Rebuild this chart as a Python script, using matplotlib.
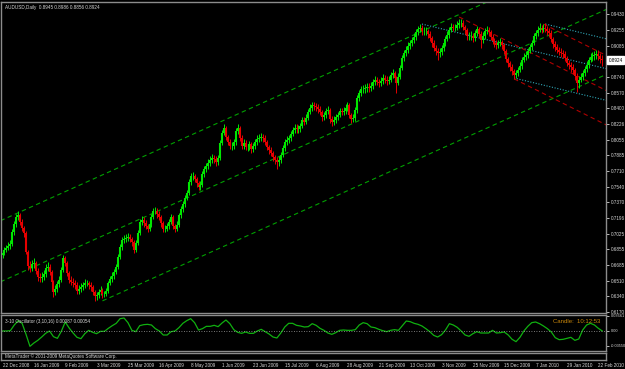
import matplotlib
matplotlib.use("Agg")
import matplotlib.pyplot as plt
import matplotlib.transforms as mtransforms
import numpy as np

# AUDUSD daily bars, 22 Dec 2008 .. 24 Feb 2010
first_open = 0.6790
close = [
    0.6812, 0.6845, 0.6867, 0.6889, 0.6911, 0.7042, 0.7130, 0.7207, 0.7228, 0.7152,
    0.7086, 0.7031, 0.6823, 0.6670, 0.6648, 0.6692, 0.6703, 0.6615, 0.6549, 0.6538,
    0.6549, 0.6582, 0.6648, 0.6659, 0.6604, 0.6495, 0.6385, 0.6418, 0.6473, 0.6517,
    0.6626, 0.6757, 0.6703, 0.6593, 0.6517, 0.6495, 0.6484, 0.6462, 0.6396, 0.6418,
    0.6440, 0.6462, 0.6484, 0.6484, 0.6462, 0.6440, 0.6385, 0.6341, 0.6352, 0.6385,
    0.6407, 0.6363, 0.6363, 0.6396, 0.6484, 0.6527, 0.6560, 0.6604, 0.6659, 0.6768,
    0.6878, 0.6955, 0.6966, 0.6976, 0.6987, 0.6966, 0.6933, 0.6845, 0.6922, 0.7031,
    0.7152, 0.7174, 0.7141, 0.7108, 0.7075, 0.7130, 0.7207, 0.7272, 0.7272, 0.7239,
    0.7207, 0.7141, 0.7075, 0.7075, 0.7108, 0.7152, 0.7207, 0.7108, 0.7075, 0.7119,
    0.7228, 0.7294, 0.7349, 0.7415, 0.7469, 0.7590, 0.7656, 0.7656, 0.7623, 0.7579,
    0.7535, 0.7557, 0.7677, 0.7732, 0.7765, 0.7798, 0.7831, 0.7853, 0.7842, 0.7809,
    0.7853, 0.8017, 0.8127, 0.8181, 0.8083, 0.8028, 0.7984, 0.7984, 0.8028, 0.8148,
    0.8181, 0.8072, 0.7984, 0.8017, 0.7973, 0.7973, 0.8006, 0.7951, 0.7984, 0.8028,
    0.8061, 0.8072, 0.8083, 0.8072, 0.8028, 0.7973, 0.7940, 0.7907, 0.7864, 0.7831,
    0.7809, 0.7831, 0.7886, 0.7962, 0.8028, 0.8050, 0.8072, 0.8116, 0.8159, 0.8181,
    0.8170, 0.8170, 0.8203, 0.8269, 0.8247, 0.8291, 0.8357, 0.8400, 0.8433, 0.8422,
    0.8411, 0.8389, 0.8357, 0.8302, 0.8324, 0.8368, 0.8378, 0.8280, 0.8247, 0.8269,
    0.8302, 0.8324, 0.8368, 0.8357, 0.8368, 0.8400, 0.8433, 0.8324, 0.8280, 0.8291,
    0.8378, 0.8510, 0.8565, 0.8608, 0.8608, 0.8619, 0.8630, 0.8619, 0.8641, 0.8685,
    0.8707, 0.8685, 0.8674, 0.8696, 0.8729, 0.8707, 0.8696, 0.8707, 0.8762, 0.8784,
    0.8729, 0.8674, 0.8740, 0.8839, 0.8948, 0.9003, 0.9036, 0.9079, 0.9112, 0.9145,
    0.9178, 0.9233, 0.9266, 0.9277, 0.9244, 0.9244, 0.9244, 0.9211, 0.9167, 0.9112,
    0.9058, 0.9025, 0.9003, 0.9014, 0.9058, 0.9112, 0.9156, 0.9200, 0.9255, 0.9288,
    0.9277, 0.9277, 0.9309, 0.9331, 0.9331, 0.9288, 0.9255, 0.9189, 0.9189, 0.9189,
    0.9167, 0.9222, 0.9266, 0.9211, 0.9145, 0.9189, 0.9244, 0.9255, 0.9233, 0.9178,
    0.9134, 0.9112, 0.9090, 0.9112, 0.9123, 0.9090, 0.9025, 0.8937, 0.8893, 0.8849,
    0.8806, 0.8762, 0.8784, 0.8817, 0.8860, 0.8926, 0.8959, 0.8981, 0.9025, 0.9069,
    0.9112, 0.9189, 0.9222, 0.9255, 0.9277, 0.9255, 0.9277, 0.9266, 0.9244, 0.9222,
    0.9156, 0.9101, 0.9069, 0.9036, 0.9014, 0.9003, 0.8992, 0.8948, 0.8893, 0.8871,
    0.8849, 0.8817, 0.8751, 0.8674, 0.8707, 0.8740, 0.8784, 0.8828, 0.8871, 0.8926,
    0.8959, 0.8970, 0.8981, 0.8992, 0.8970, 0.8937, 0.8924,
]
high = [
    0.6850, 0.6880, 0.6900, 0.6930, 0.6950, 0.7070, 0.7160, 0.7240, 0.7270, 0.7250,
    0.7180, 0.7110, 0.7050, 0.6850, 0.6720, 0.6740, 0.6760, 0.6730, 0.6650, 0.6590,
    0.6600, 0.6630, 0.6690, 0.6710, 0.6690, 0.6630, 0.6520, 0.6460, 0.6510, 0.6560,
    0.6660, 0.6790, 0.6780, 0.6720, 0.6620, 0.6560, 0.6540, 0.6520, 0.6490, 0.6460,
    0.6480, 0.6500, 0.6530, 0.6520, 0.6510, 0.6490, 0.6460, 0.6410, 0.6390, 0.6420,
    0.6450, 0.6430, 0.6400, 0.6430, 0.6510, 0.6560, 0.6600, 0.6640, 0.6690, 0.6800,
    0.6910, 0.6990, 0.7010, 0.7020, 0.7030, 0.7020, 0.6990, 0.6950, 0.6950, 0.7060,
    0.7180, 0.7220, 0.7210, 0.7170, 0.7130, 0.7160, 0.7240, 0.7310, 0.7320, 0.7300,
    0.7270, 0.7230, 0.7160, 0.7120, 0.7140, 0.7190, 0.7240, 0.7230, 0.7130, 0.7160,
    0.7250, 0.7330, 0.7380, 0.7450, 0.7500, 0.7620, 0.7690, 0.7700, 0.7680, 0.7650,
    0.7600, 0.7600, 0.7710, 0.7770, 0.7800, 0.7840, 0.7870, 0.7900, 0.7890, 0.7870,
    0.7890, 0.8050, 0.8160, 0.8230, 0.8200, 0.8110, 0.8060, 0.8030, 0.8060, 0.8180,
    0.8220, 0.8200, 0.8100, 0.8060, 0.8050, 0.8010, 0.8040, 0.8030, 0.8020, 0.8060,
    0.8100, 0.8120, 0.8130, 0.8120, 0.8100, 0.8050, 0.8000, 0.7970, 0.7930, 0.7890,
    0.7860, 0.7870, 0.7920, 0.8000, 0.8060, 0.8090, 0.8110, 0.8150, 0.8190, 0.8220,
    0.8220, 0.8210, 0.8240, 0.8300, 0.8300, 0.8330, 0.8390, 0.8440, 0.8470, 0.8470,
    0.8460, 0.8440, 0.8420, 0.8380, 0.8360, 0.8400, 0.8420, 0.8400, 0.8310, 0.8310,
    0.8340, 0.8360, 0.8400, 0.8400, 0.8410, 0.8440, 0.8470, 0.8450, 0.8350, 0.8330,
    0.8410, 0.8540, 0.8600, 0.8640, 0.8650, 0.8660, 0.8670, 0.8670, 0.8680, 0.8720,
    0.8750, 0.8740, 0.8720, 0.8740, 0.8770, 0.8760, 0.8750, 0.8750, 0.8800, 0.8830,
    0.8810, 0.8750, 0.8780, 0.8870, 0.8980, 0.9040, 0.9080, 0.9120, 0.9150, 0.9180,
    0.9220, 0.9270, 0.9300, 0.9320, 0.9310, 0.9290, 0.9290, 0.9270, 0.9240, 0.9190,
    0.9140, 0.9090, 0.9060, 0.9060, 0.9090, 0.9140, 0.9190, 0.9240, 0.9290, 0.9330,
    0.9320, 0.9320, 0.9350, 0.9380, 0.9370, 0.9360, 0.9310, 0.9280, 0.9230, 0.9240,
    0.9220, 0.9260, 0.9300, 0.9290, 0.9240, 0.9230, 0.9280, 0.9300, 0.9290, 0.9260,
    0.9210, 0.9170, 0.9150, 0.9150, 0.9170, 0.9150, 0.9110, 0.9050, 0.8960, 0.8920,
    0.8880, 0.8830, 0.8820, 0.8850, 0.8900, 0.8960, 0.9000, 0.9020, 0.9060, 0.9100,
    0.9150, 0.9220, 0.9260, 0.9300, 0.9330, 0.9310, 0.9320, 0.9330, 0.9300, 0.9280,
    0.9250, 0.9180, 0.9130, 0.9100, 0.9070, 0.9060, 0.9040, 0.9020, 0.8970, 0.8930,
    0.8900, 0.8880, 0.8840, 0.8780, 0.8750, 0.8780, 0.8820, 0.8860, 0.8910, 0.8960,
    0.9000, 0.9010, 0.9030, 0.9040, 0.9040, 0.9000, 0.8986,
]
low = [
    0.6760, 0.6790, 0.6820, 0.6840, 0.6860, 0.6890, 0.7010, 0.7100, 0.7170, 0.7120,
    0.7050, 0.6990, 0.6800, 0.6630, 0.6600, 0.6610, 0.6650, 0.6580, 0.6510, 0.6490,
    0.6500, 0.6520, 0.6550, 0.6610, 0.6570, 0.6460, 0.6330, 0.6350, 0.6380, 0.6440,
    0.6490, 0.6600, 0.6670, 0.6560, 0.6480, 0.6460, 0.6440, 0.6420, 0.6360, 0.6360,
    0.6390, 0.6410, 0.6430, 0.6450, 0.6420, 0.6400, 0.6350, 0.6290, 0.6300, 0.6320,
    0.6350, 0.6320, 0.6330, 0.6340, 0.6370, 0.6460, 0.6500, 0.6530, 0.6580, 0.6640,
    0.6750, 0.6850, 0.6920, 0.6930, 0.6940, 0.6930, 0.6890, 0.6810, 0.6820, 0.6900,
    0.7010, 0.7120, 0.7100, 0.7070, 0.7040, 0.7050, 0.7100, 0.7180, 0.7240, 0.7200,
    0.7170, 0.7100, 0.7040, 0.7040, 0.7050, 0.7080, 0.7130, 0.7080, 0.7040, 0.7050,
    0.7100, 0.7200, 0.7260, 0.7320, 0.7390, 0.7450, 0.7560, 0.7610, 0.7590, 0.7540,
    0.7500, 0.7500, 0.7540, 0.7650, 0.7700, 0.7730, 0.7770, 0.7800, 0.7800, 0.7770,
    0.7780, 0.7830, 0.7990, 0.8100, 0.8050, 0.7990, 0.7950, 0.7940, 0.7950, 0.8000,
    0.8120, 0.8040, 0.7950, 0.7950, 0.7940, 0.7930, 0.7940, 0.7910, 0.7920, 0.7950,
    0.8000, 0.8030, 0.8040, 0.8030, 0.7990, 0.7940, 0.7900, 0.7870, 0.7820, 0.7790,
    0.7730, 0.7760, 0.7800, 0.7860, 0.7930, 0.8000, 0.8020, 0.8040, 0.8090, 0.8130,
    0.8130, 0.8130, 0.8140, 0.8180, 0.8210, 0.8220, 0.8270, 0.8330, 0.8370, 0.8380,
    0.8370, 0.8350, 0.8320, 0.8260, 0.8270, 0.8290, 0.8330, 0.8240, 0.8200, 0.8210,
    0.8240, 0.8270, 0.8300, 0.8320, 0.8320, 0.8340, 0.8370, 0.8290, 0.8240, 0.8250,
    0.8260, 0.8350, 0.8480, 0.8530, 0.8570, 0.8570, 0.8580, 0.8580, 0.8590, 0.8610,
    0.8650, 0.8650, 0.8630, 0.8640, 0.8660, 0.8670, 0.8650, 0.8660, 0.8680, 0.8730,
    0.8690, 0.8570, 0.8650, 0.8720, 0.8820, 0.8920, 0.8970, 0.9000, 0.9050, 0.9080,
    0.9110, 0.9150, 0.9200, 0.9230, 0.9200, 0.9200, 0.9200, 0.9170, 0.9130, 0.9070,
    0.9020, 0.8980, 0.8930, 0.8960, 0.8980, 0.9030, 0.9080, 0.9130, 0.9170, 0.9230,
    0.9240, 0.9240, 0.9250, 0.9280, 0.9290, 0.9250, 0.9210, 0.9150, 0.9150, 0.9140,
    0.9120, 0.9130, 0.9190, 0.9170, 0.9060, 0.9110, 0.9160, 0.9210, 0.9190, 0.9140,
    0.9100, 0.9070, 0.9050, 0.9060, 0.9080, 0.9050, 0.8990, 0.8900, 0.8850, 0.8810,
    0.8760, 0.8720, 0.8730, 0.8750, 0.8790, 0.8830, 0.8900, 0.8930, 0.8950, 0.9000,
    0.9040, 0.9090, 0.9160, 0.9190, 0.9230, 0.9220, 0.9230, 0.9230, 0.9200, 0.9180,
    0.9120, 0.9060, 0.9030, 0.9000, 0.8980, 0.8960, 0.8950, 0.8910, 0.8860, 0.8830,
    0.8800, 0.8770, 0.8710, 0.8580, 0.8620, 0.8680, 0.8710, 0.8750, 0.8800, 0.8840,
    0.8900, 0.8920, 0.8930, 0.8940, 0.8930, 0.8890, 0.8856,
]

# 3-10 oscillator, one value every second bar
osc_step = 2
osc = [
    0.0, 0.0, 0.0008, 0.0144, 0.0248, 0.0184, -0.0080, -0.0368, -0.0288, -0.0224,
    -0.0144, -0.0056, 0.0, -0.0136, -0.0176, -0.0008, 0.0216, 0.0072, -0.0048, -0.0152,
    -0.0184, -0.0064, 0.0016, -0.0032, -0.0064, -0.0008, -0.0008, 0.0064, 0.0128, 0.0184,
    0.0296, 0.0312, 0.0200, 0.0016, -0.0016, 0.0128, 0.0152, 0.0160, 0.0144, 0.0056,
    0.0, -0.0096, -0.0096, -0.0016, 0.0, 0.0080, 0.0184, 0.0248, 0.0296, 0.0200,
    0.0024, 0.0056, 0.0112, 0.0112, 0.0136, 0.0104, 0.0192, 0.0264, 0.0176, 0.0032,
    -0.0032, -0.0056, -0.0024, -0.0056, -0.0056, 0.0, 0.0040, -0.0016, -0.0072, -0.0144,
    -0.0168, -0.0048, 0.0096, 0.0184, 0.0184, 0.0136, 0.0120, 0.0096, 0.0104, 0.0176,
    0.0136, 0.0064, 0.0016, -0.0048, -0.0080, -0.0040, 0.0016, 0.0024, 0.0016, 0.0016,
    0.0032, 0.0144, 0.0200, 0.0176, 0.0096, 0.0080, 0.0040, 0.0008, -0.0016, 0.0016,
    0.0032, 0.0016, 0.0128, 0.0240, 0.0224, 0.0184, 0.0160, 0.0120, 0.0056, -0.0016,
    -0.0104, -0.0144, -0.0088, 0.0024, 0.0176, 0.0144, 0.0088, 0.0, -0.0096, -0.0128,
    -0.0064, -0.0016, -0.0048, -0.0048, -0.0048, 0.0016, -0.0048, -0.0040, -0.0024, -0.0096,
    -0.0200, -0.0256, -0.0152, 0.0, 0.0112, 0.0200, 0.0216, 0.0176, 0.0120, 0.0056,
    -0.0024, -0.0160, -0.0208, -0.0200, -0.0176, -0.0152, -0.0224, -0.0192, 0.0024, 0.0144,
    0.0184, 0.0144, 0.0064, 0.0,
]

# 0.8915 sits under the current-price box, so it is left out
price_ticks = [0.9430, 0.9255, 0.9085, 0.8740, 0.8570, 0.8400, 0.8226, 0.8055,
               0.7885, 0.7710, 0.7540, 0.7370, 0.7196, 0.7025, 0.6855, 0.6685, 0.6510,
               0.6340, 0.6170]
osc_ticks = [0.03661, 0.0, -0.03550]
osc_tick_text = ["0.03661", "0.00", "-0.03550"]
date_labels = ["22 Dec 2008", "16 Jan 2009", "9 Feb 2009", "3 Mar 2009", "25 Mar 2009",
               "16 Apr 2009", "8 May 2009", "1 Jun 2009", "23 Jun 2009", "15 Jul 2009",
               "6 Aug 2009", "28 Aug 2009", "21 Sep 2009", "13 Oct 2009", "3 Nov 2009",
               "25 Nov 2009", "15 Dec 2009", "7 Jan 2010", "29 Jan 2010", "22 Feb 2010"]
date_step = 16

# drawn objects: (bar, price) -> (bar, price)
green_channel = [(-1, 0.7166, 310, 1.0168),
                 (-1, 0.6497, 310, 0.9499),
                 (51, 0.6288, 310, 0.8787)]
cyan_lines = [(214, 0.9320, 310, 0.8821),
              (277, 0.9320, 310, 0.9148),
              (261, 0.8729, 310, 0.8474)]
red_lines = [(233, 0.9397, 310, 0.8571),
             (276, 0.9320, 310, 0.8955),
             (261, 0.8720, 310, 0.8194)]

plt.rcParams["font.family"] = ["Liberation Sans", "DejaVu Sans"]

BG = "black"
UP = "#00e600"
DOWN = "#e60000"
FRAME = "#8c8c8c"
TXT = "#d8d8d8"
FS = 3.3

W, H = 625, 369
fig = plt.figure(figsize=(6.25, 3.69), dpi=100, facecolor=BG)


def box(left, top, right, bottom):
    return [left / W, 1 - bottom / H, (right - left) / W, (bottom - top) / H]


ax = fig.add_axes(box(1, 1.5, 606, 313))
ax_osc = fig.add_axes(box(1, 315, 606, 351))
ax_copy = fig.add_axes(box(1, 353, 606, 360))

n = len(close)
xmin, xmax = -0.77, 307.9
for a in (ax, ax_osc, ax_copy):
    a.set_facecolor(BG)
    a.set_xlim(xmin, xmax)
    for s in a.spines.values():
        s.set_color(FRAME)
        s.set_linewidth(1.0)
    a.tick_params(colors=TXT, labelsize=FS, length=2, width=0.6, pad=1.5)
    a.yaxis.tick_right()
    a.set_xticks([])

# candles
c = np.array(close)
o = np.r_[first_open, c[:-1]]
x = np.arange(n)
colors = np.where(c >= o, UP, DOWN)
ax.vlines(x, low, high, colors=colors, lw=0.7, zorder=3)
ax.vlines(x, np.minimum(o, c), np.maximum(o, c), colors=colors, lw=1.5, zorder=3)

for b0, p0, b1, p1 in green_channel:
    ax.plot([b0, b1], [p0, p1], color="#00a000", lw=0.8, ls=(0, (4, 3)), zorder=2)
for b0, p0, b1, p1 in cyan_lines:
    ax.plot([b0, b1], [p0, p1], color="#30a8b8", lw=0.8, ls=(0, (1, 1.5)), zorder=2)
for b0, p0, b1, p1 in red_lines:
    ax.plot([b0, b1], [p0, p1], color="#b00000", lw=0.8, ls=(0, (4, 3)), zorder=2)

ax.set_ylim(0.6155, 0.9567)
ax.set_yticks(price_ticks)
ax.set_yticklabels([f"{v:.4f}" for v in price_ticks])
trans = mtransforms.blended_transform_factory(ax.transAxes, ax.transData)
ax.text(1.004, close[-1], f"{close[-1]:.4f}", transform=trans, fontsize=FS,
        color="black", va="center", ha="left",
        bbox=dict(boxstyle="square,pad=0.3", fc="white", ec="white"), zorder=5)
ax.text(0.006, 0.988, "AUDUSD,Daily  0.8945 0.8986 0.8856 0.8924", transform=ax.transAxes,
        fontsize=FS, color=TXT, va="top", ha="left")

# oscillator
xo = np.arange(len(osc)) * osc_step
ax_osc.plot(xo, osc, color="#10b010", lw=0.9)
ax_osc.axhline(0, color="#a0a0a0", lw=0.6, ls=(0, (1, 2)))
ax_osc.set_ylim(-0.048, 0.0384)
ax_osc.set_yticks(osc_ticks)
ax_osc.set_yticklabels(osc_tick_text)
ax_osc.tick_params(axis="y", labelsize=2.8, pad=1.2)
ax_osc.text(0.006, 0.88, "3-10 Oscillator (3,10,16) 0.00087 0.00054", transform=ax_osc.transAxes,
            fontsize=FS, color=TXT, va="top", ha="left")
ax_osc.text(0.913, 0.9, "Candle:  10:12:53", transform=ax_osc.transAxes,
            fontsize=4.3, color="#c8860a", va="top", ha="left")

# copyright strip + dates
ax_copy.set_yticks([])
ax_copy.text(0.006, 0.5, "MetaTrader \u00a9 2001-2009 MetaQuotes Software Corp.",
             transform=ax_copy.transAxes, fontsize=FS, color=TXT, va="center", ha="left")
ax_copy.set_xticks(np.arange(len(date_labels)) * date_step)
ax_copy.set_xticklabels(date_labels, ha="left")
ax_copy.tick_params(axis="x", length=0, pad=2.5, labelsize=FS, colors=TXT)

fig.savefig("out.png", dpi=100, facecolor=BG)
